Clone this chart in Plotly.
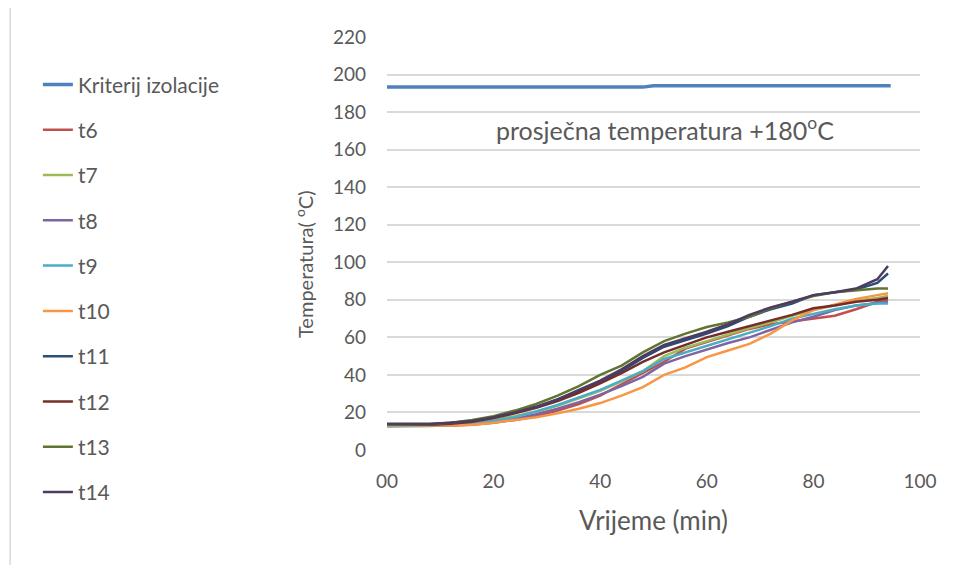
import plotly.graph_objects as go

# time axis (min)
time = [0, 4, 8, 12, 16, 20, 24, 28, 32, 36, 40, 44, 48, 52, 56, 60,
        64, 68, 72, 76, 80, 84, 88, 92, 94]

kriterij_time = [0, 48, 50, 94.5]
kriterij = [193.3, 193.3, 194.0, 194.0]

t6 = [13, 13, 12.8, 13, 13.5, 14.5, 16, 18, 21, 24.5, 29, 35, 41, 47, 54, 57.5,
      61, 64.5, 67, 68.5, 70, 71.5, 75, 79, 80]
t7 = [13, 13, 13, 13.5, 14.5, 16, 18, 20.5, 23.5, 27.5, 31.5, 36.5, 42, 50, 54.5, 58,
      61.5, 65, 68, 71.5, 74.5, 77, 79.5, 81, 82]
t8 = [13, 13, 13, 13.2, 14, 15, 16.5, 19, 22, 25.5, 29.5, 34, 39, 46, 50, 53.5,
      57, 60, 64, 68, 71, 74.5, 77, 78.5, 79]
t9 = [12.5, 12.5, 12.8, 13.2, 14, 15.5, 17.5, 20.5, 24, 28, 32, 37, 42, 48.5, 52, 55.5,
      59, 62.5, 66, 70, 72.5, 75, 77, 78, 78]
t10 = [13, 13, 13, 13, 13.5, 14.5, 16, 17.5, 19.5, 22, 25, 29, 33.5, 40, 44, 49.5,
       53, 56.5, 62, 69, 74.5, 77.5, 80.5, 82.5, 83.5]
t11 = [13.5, 13.5, 13.5, 14.5, 15.5, 17.5, 20, 23, 27, 31.5, 36.5, 42, 49, 55, 58.5, 62,
       66, 71, 75, 78, 82.5, 84, 85.5, 89, 94]
t12 = [13.5, 13.5, 13.5, 14, 15, 17, 19.5, 22.5, 26, 30.5, 35.5, 41, 47, 52, 56, 60,
       63, 66, 69, 72, 75.5, 77, 79, 80, 81]
t13 = [13.5, 13.5, 13.7, 14.5, 16, 18, 21, 24.5, 29, 34, 40, 45, 52, 58, 62, 65.5,
       68, 71, 75.5, 79, 82, 84, 85, 86, 86]
t14 = [14, 14, 14, 14.5, 15.5, 17.5, 20, 23, 27, 32, 37, 43, 50, 56, 59.5, 63,
       67, 72, 76, 79, 82.5, 84, 86, 91, 98]

series = [
    ("t6", t6, "#C0504D"),
    ("t7", t7, "#9BBB59"),
    ("t8", t8, "#8064A2"),
    ("t9", t9, "#4BACC6"),
    ("t10", t10, "#F79646"),
    ("t11", t11, "#2C4D75"),
    ("t12", t12, "#772C2A"),
    ("t13", t13, "#5F7530"),
    ("t14", t14, "#4D3B62"),
]

FONT = "Lato"
GREY = "#595959"

fig = go.Figure()
fig.add_trace(go.Scatter(x=kriterij_time, y=kriterij, mode="lines",
                         name="Kriterij izolacije", legendgroup="k",
                         line=dict(color="#4F81BD", width=3.5)))
for name, vals, col in series:
    fig.add_trace(go.Scatter(x=time, y=vals, mode="lines", name=name,
                             legendgroup=name,
                             line=dict(color=col, width=2.5)))

fig.add_annotation(x=20.0, y=171, xref="x", yref="y", xanchor="left",
                   yanchor="middle",
                   text="prosječna temperatura +180<sup>o</sup>C",
                   showarrow=False, font=dict(family=FONT, size=25, color=GREY))

# axis titles placed like the original
fig.add_annotation(x=0.5, y=-0.17, xref="paper", yref="paper",
                   xanchor="center", yanchor="middle",
                   text="Vrijeme (min)", showarrow=False,
                   font=dict(family=FONT, size=26, color=GREY))
fig.add_annotation(x=-0.156, y=0.45, xref="paper", yref="paper",
                   xanchor="center", yanchor="middle",
                   text="Temperatura( <sup>o</sup>C)", textangle=-90, showarrow=False,
                   font=dict(family=FONT, size=20, color=GREY))

# chart frame line on the left
fig.add_shape(type="line", xref="paper", yref="paper",
              x0=-0.707, x1=-0.707, y0=-0.3, y1=1.1,
              line=dict(color="#d9d9d9", width=1.5))

fig.update_layout(
    width=958, height=565,
    margin=dict(l=379, r=46, t=29, b=123, autoexpand=False),
    paper_bgcolor="white", plot_bgcolor="white",
    font=dict(family=FONT, size=18, color=GREY),
    showlegend=True,
    legend=dict(x=-0.655, xanchor="left", y=0.934, yanchor="top",
                tracegroupgap=15, maxheight=540, font=dict(size=21, color=GREY),
                bgcolor="rgba(0,0,0,0)"),
    xaxis=dict(range=[0, 100], tickvals=[0, 20, 40, 60, 80, 100],
               ticktext=["00", "20", "40", "60", "80", "100"],
               showgrid=False, zeroline=False, showline=False, ticks="",
               ticklabelstandoff=18,
               tickfont=dict(size=19, color=GREY)),
    yaxis=dict(range=[0, 220], dtick=20, showgrid=True, gridcolor="#d9d9d9",
               gridwidth=1.5, zeroline=False, showline=False, ticks="",
               ticklabelstandoff=20,
               tickfont=dict(size=19, color=GREY)),
)

fig.write_html("out.html")
